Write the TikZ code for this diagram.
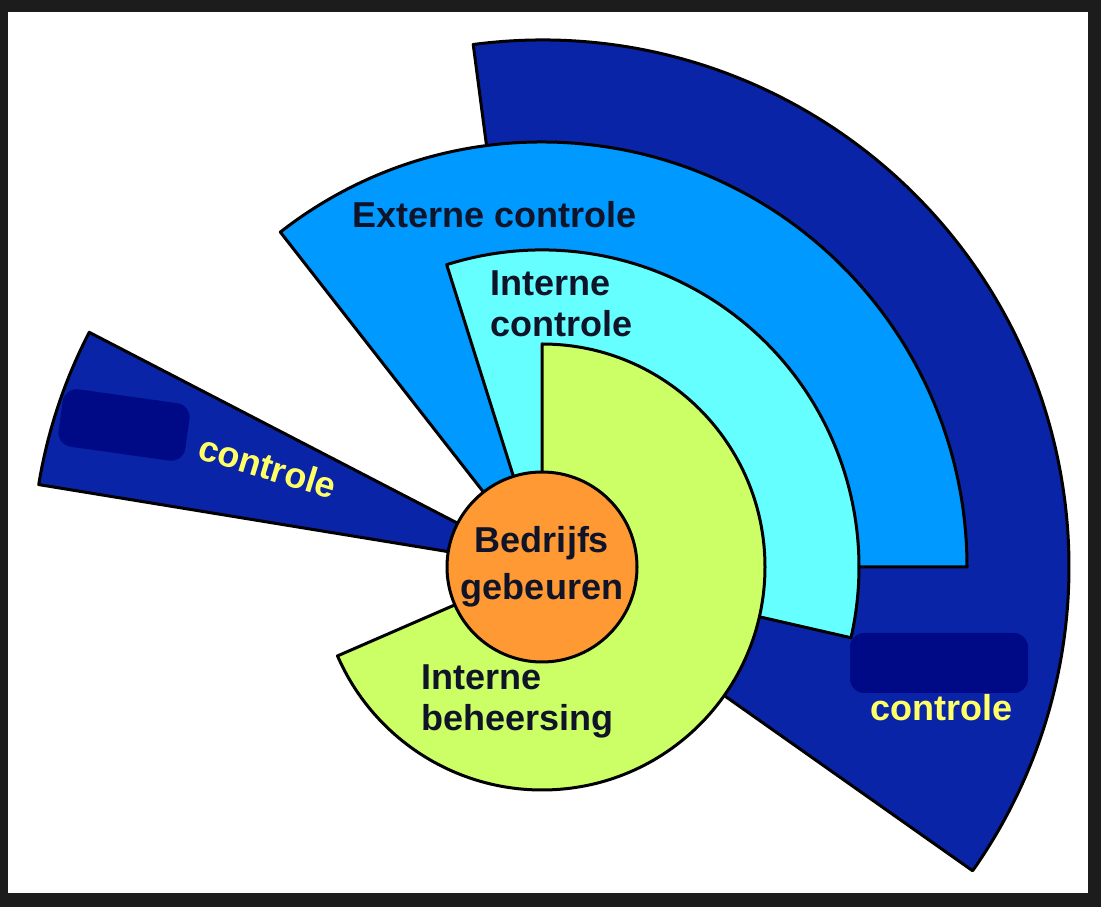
\documentclass[tikz,border=0pt]{standalone}
\usepackage{fontspec}
\setmainfont{Liberation Sans}

\definecolor{framegray}{RGB}{28,28,28}
\definecolor{darkblue}{RGB}{10,36,168}
\definecolor{midblue}{RGB}{0,153,255}
\definecolor{paleblue}{RGB}{102,255,255}
\definecolor{limegreen}{RGB}{204,255,102}
\definecolor{coreorange}{RGB}{255,153,51}
\definecolor{labelyellow}{RGB}{255,255,102}
\definecolor{labeldark}{RGB}{16,20,40}
\definecolor{smudge}{RGB}{0,10,135}

\begin{document}
\begin{tikzpicture}[x=1pt, y=1pt,
    part/.style={draw=black, line width=3pt, line join=round},
    lbl/.style={font={\fontsize{36}{41}\selectfont\bfseries}, text=labeldark, inner sep=0pt},
    ylbl/.style={lbl, text=labelyellow},
    blob/.style={fill=smudge, rounded corners=14pt, inner sep=0pt}]
    % frame
    \fill[framegray] (0,0) rectangle (1101,907);
    \fill[white] (8,14) rectangle (1088,895);

    \coordinate (C) at (542,340);

    % outer ring (dark blue)
    \draw[part, fill=darkblue] (C) -- ++(97.5:527pt) arc[start angle=97.5, end angle=-35.2, radius=527pt] -- cycle;
    % small wedge on the left
    \draw[part, fill=darkblue] (C) -- ++(152.6:510pt) arc[start angle=152.6, end angle=170.7, radius=510pt] -- cycle;
    % Externe controle
    \draw[part, fill=midblue] (C) -- ++(128:425pt) arc[start angle=128, end angle=0, radius=425pt] -- cycle;
    % Interne controle
    \draw[part, fill=paleblue] (C) -- ++(107.5:317pt) arc[start angle=107.5, end angle=-12.9, radius=317pt] -- cycle;
    % Interne beheersing
    \draw[part, fill=limegreen] (C) -- ++(90:223pt) arc[start angle=90, end angle=-156.5, radius=223pt] -- cycle;

    % covered words
    \node[blob, minimum width=128pt, minimum height=58pt, rotate=-8] (blobL) at (124,482) {};
    \node[blob, minimum width=178pt, minimum height=60pt] (blobR) at (939,244) {};

    % labels
    \node[lbl, anchor=base west] (extern) at (352,679) {Externe controle};
    \node[lbl, anchor=north west, align=left] (intctrl) at (490,636) {Interne\\controle};
    \node[lbl, anchor=north west, align=left] (intbeh) at (421,242) {Interne\\beheersing};
    \node[ylbl, anchor=base west, rotate=-17] (ctrlL) at (196,449) {controle};
    \node[ylbl, anchor=base west] (ctrlR) at (870,186) {controle};

    % core
    \node[circle, draw=black, line width=3pt, fill=coreorange, minimum size=190pt,
          inner sep=0pt, align=center, text=labeldark,
          font={\fontsize{36}{47}\selectfont\bfseries}] (core) at (C) {Bedrijfs\\gebeuren};
\end{tikzpicture}
\end{document}
